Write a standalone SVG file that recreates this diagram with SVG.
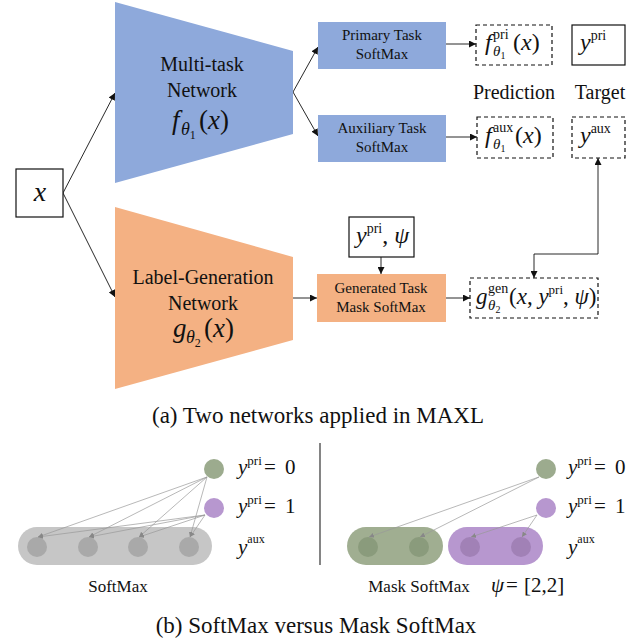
<svg xmlns="http://www.w3.org/2000/svg" width="635" height="643" viewBox="0 0 635 643" font-family="'Liberation Serif', 'Times New Roman', 'DejaVu Serif', serif">
<style>
text{font-family:'Liberation Serif','Times New Roman','DejaVu Serif',serif}
.t{fill:#111}
.i{font-style:italic}
.w{font-size:20px;text-anchor:middle}
.b{font-size:15px;text-anchor:middle}
.cap{font-size:23px;text-anchor:middle}
.ln{stroke:#111;stroke-width:0.9;fill:none}
.dash{fill:#fff;stroke:#111;stroke-width:1.2;stroke-dasharray:4 3}
.solid{fill:#fff;stroke:#111;stroke-width:1.2}
.g{stroke:#9a9a9a;stroke-width:0.7;fill:none}
</style>
<defs>
<marker id="ah" viewBox="0 0 10 10" refX="10" refY="5" markerWidth="7" markerHeight="7" markerUnits="userSpaceOnUse" orient="auto-start-reverse"><path d="M0,0 L10,5 L0,10 z" fill="#111"/></marker>
<marker id="ag" viewBox="0 0 10 10" refX="10" refY="5" markerWidth="5" markerHeight="5" markerUnits="userSpaceOnUse" orient="auto"><path d="M0,0 L10,5 L0,10 z" fill="#888"/></marker>
</defs>
<rect width="635" height="643" fill="#fff"/>

<g id="connectors">
<line class="ln" x1="63" y1="193" x2="115" y2="93" marker-end="url(#ah)"/>
<line class="ln" x1="63" y1="193" x2="115" y2="297" marker-end="url(#ah)"/>
<line class="ln" x1="293" y1="92" x2="318" y2="47" marker-end="url(#ah)"/>
<line class="ln" x1="293" y1="92" x2="318" y2="136" marker-end="url(#ah)"/>
<line class="ln" x1="446" y1="44" x2="476" y2="44" marker-end="url(#ah)"/>
<line class="ln" x1="446" y1="137" x2="477" y2="137" marker-end="url(#ah)"/>
<line class="ln" x1="293" y1="298" x2="317" y2="298" marker-end="url(#ah)"/>
<line class="ln" x1="381" y1="257" x2="381" y2="274" marker-end="url(#ah)"/>
<line class="ln" x1="446" y1="298" x2="470" y2="298" marker-end="url(#ah)"/>
<path class="ln" d="M534,278 L534,254 L598,254 L598,158" marker-start="url(#ah)" marker-end="url(#ah)"/>
</g>

<g id="multitask">
<polygon points="115,2 293,51 293,134 115,183" fill="#8EA9DB"/>
<text class="t w" x="202" y="71">Multi-task</text>
<text class="t w" x="202" y="97">Network</text>
<text class="t" x="172" y="129" font-size="27"><tspan class="i">f</tspan><tspan class="i" font-size="18" dy="6" x="181">θ</tspan><tspan font-size="12" dy="4">1</tspan><tspan dy="-10" x="199">(</tspan><tspan class="i">x</tspan>)</text>
</g>

<g id="input">
<rect class="solid" x="16" y="169" width="47" height="48"/>
<text class="t i" x="40" y="201" font-size="28" text-anchor="middle">x</text>
</g>

<g id="primary">
<rect x="318" y="22" width="128" height="47" fill="#8EA9DB"/>
<text class="t b" x="382" y="40">Primary Task</text>
<text class="t b" x="382" y="59">SoftMax</text>
</g>
<g id="auxiliary">
<rect x="318" y="115" width="128" height="47" fill="#8EA9DB"/>
<text class="t b" x="382" y="133">Auxiliary Task</text>
<text class="t b" x="382" y="152">SoftMax</text>
</g>

<g id="fpri">
<rect class="dash" x="476" y="25" width="76" height="40"/>
<text class="t" x="485" y="50" font-size="24"><tspan class="i">f</tspan><tspan font-size="14" x="493" dy="-11">pri</tspan><tspan class="i" font-size="15" x="493" dy="17">θ</tspan><tspan font-size="10" dy="3">1</tspan><tspan x="513" dy="-9">(</tspan><tspan class="i">x</tspan>)</text>
</g>
<g id="ypri">
<rect class="solid" x="572" y="25" width="53" height="40"/>
<text class="t" x="580" y="50" font-size="24"><tspan class="i">y</tspan><tspan font-size="14" dy="-10">pri</tspan></text>
</g>
<text class="t w" x="514" y="99">Prediction</text>
<text class="t w" x="600" y="99">Target</text>

<g id="faux">
<rect class="dash" x="477" y="117" width="76" height="41"/>
<text class="t" x="485" y="143" font-size="24"><tspan class="i">f</tspan><tspan font-size="14" x="493" dy="-11">aux</tspan><tspan class="i" font-size="15" x="493" dy="17">θ</tspan><tspan font-size="10" dy="3">1</tspan><tspan x="515" dy="-9">(</tspan><tspan class="i">x</tspan>)</text>
</g>
<g id="yaux">
<rect class="dash" x="572" y="117" width="53" height="41"/>
<text class="t" x="580" y="143" font-size="24"><tspan class="i">y</tspan><tspan font-size="14" dy="-10">aux</tspan></text>
</g>

<g id="labelgen">
<polygon points="115,207 293,257 293,340 115,389" fill="#F4B183"/>
<text class="t w" x="203" y="284">Label-Generation</text>
<text class="t w" x="203" y="310">Network</text>
<text class="t" x="173" y="337" font-size="27"><tspan class="i">g</tspan><tspan class="i" font-size="18" dy="6" x="186">θ</tspan><tspan font-size="12" dy="4">2</tspan><tspan dy="-10" x="204">(</tspan><tspan class="i">x</tspan>)</text>
</g>

<g id="ypsi">
<rect class="solid" x="349" y="217" width="65" height="40"/>
<text class="t" x="356" y="243" font-size="24"><tspan class="i">y</tspan><tspan font-size="14" dy="-10">pri</tspan><tspan dy="10">, </tspan><tspan class="i">ψ</tspan></text>
</g>

<g id="gentask">
<rect x="317" y="274" width="129" height="48" fill="#F4B183"/>
<text class="t b" x="381" y="293">Generated Task</text>
<text class="t b" x="381" y="312">Mask SoftMax</text>
</g>

<g id="ggen">
<rect class="dash" x="470" y="278" width="128" height="40"/>
<text class="t" x="476" y="304" font-size="23"><tspan class="i">g</tspan><tspan font-size="14" x="488" dy="-11">gen</tspan><tspan class="i" font-size="15" x="488" dy="17">θ</tspan><tspan font-size="10" dy="3">2</tspan><tspan x="509" dy="-9">(</tspan><tspan class="i">x</tspan>, <tspan class="i">y</tspan><tspan font-size="13" dy="-10">pri</tspan><tspan dy="10">, </tspan><tspan class="i">ψ</tspan>)</text>
</g>

<text class="t cap" x="318" y="423">(a) Two networks applied in MAXL</text>

<line x1="320" y1="443" x2="320" y2="565" stroke="#333" stroke-width="1.2"/>

<g id="softmax">
<rect x="18" y="527" width="194" height="38" rx="19" fill="#C6C6C6"/>
<circle cx="37" cy="547" r="10" fill="#A9A9A9"/>
<circle cx="88" cy="547" r="10" fill="#A9A9A9"/>
<circle cx="138" cy="547" r="10" fill="#A9A9A9"/>
<circle cx="189" cy="547" r="10" fill="#A9A9A9"/>
<circle cx="214" cy="469" r="10" fill="#9CAB8E"/>
<circle cx="214" cy="508" r="10" fill="#B797CF"/>
<g class="g">
<line x1="207" y1="477" x2="38" y2="537" marker-end="url(#ag)"/>
<line x1="207" y1="477" x2="89" y2="537" marker-end="url(#ag)"/>
<line x1="207" y1="477" x2="139" y2="537" marker-end="url(#ag)"/>
<line x1="207" y1="477" x2="190" y2="537" marker-end="url(#ag)"/>
<line x1="205" y1="515" x2="38" y2="537" marker-end="url(#ag)"/>
<line x1="205" y1="515" x2="89" y2="537" marker-end="url(#ag)"/>
<line x1="205" y1="515" x2="139" y2="537" marker-end="url(#ag)"/>
<line x1="205" y1="515" x2="190" y2="537" marker-end="url(#ag)"/>
</g>
<text class="t" x="238" y="474" font-size="21"><tspan class="i">y</tspan><tspan font-size="13" dy="-9">pri</tspan><tspan x="264" dy="9">=</tspan><tspan x="285">0</tspan></text>
<text class="t" x="238" y="513" font-size="21"><tspan class="i">y</tspan><tspan font-size="13" dy="-9">pri</tspan><tspan x="264" dy="9">=</tspan><tspan x="285">1</tspan></text>
<text class="t" x="238" y="554" font-size="21"><tspan class="i">y</tspan><tspan font-size="12" dy="-11">aux</tspan></text>
<text class="t" x="118" y="592" font-size="17" text-anchor="middle">SoftMax</text>
</g>

<g id="masksoftmax">
<rect x="347" y="527" width="96" height="38" rx="19" fill="#A0AE91"/>
<rect x="448" y="527" width="95" height="38" rx="19" fill="#B797CF"/>
<circle cx="368" cy="547" r="10" fill="#8A9B7C"/>
<circle cx="419" cy="547" r="10" fill="#8A9B7C"/>
<circle cx="470" cy="547" r="10" fill="#A181B6"/>
<circle cx="521" cy="547" r="10" fill="#A181B6"/>
<circle cx="546" cy="469" r="10" fill="#9CAB8E"/>
<circle cx="546" cy="508" r="10" fill="#B797CF"/>
<g class="g">
<line x1="539" y1="477" x2="369" y2="537" marker-end="url(#ag)"/>
<line x1="539" y1="477" x2="420" y2="537" marker-end="url(#ag)"/>
<line x1="537" y1="515" x2="471" y2="537" marker-end="url(#ag)"/>
<line x1="537" y1="515" x2="522" y2="537" marker-end="url(#ag)"/>
</g>
<text class="t" x="568" y="474" font-size="21"><tspan class="i">y</tspan><tspan font-size="13" dy="-9">pri</tspan><tspan x="594" dy="9">=</tspan><tspan x="615">0</tspan></text>
<text class="t" x="568" y="513" font-size="21"><tspan class="i">y</tspan><tspan font-size="13" dy="-9">pri</tspan><tspan x="594" dy="9">=</tspan><tspan x="615">1</tspan></text>
<text class="t" x="568" y="554" font-size="21"><tspan class="i">y</tspan><tspan font-size="12" dy="-11">aux</tspan></text>
<text class="t" x="419" y="592" font-size="17" text-anchor="middle">Mask SoftMax</text>
<text class="t" x="491" y="592" font-size="21"><tspan class="i">ψ</tspan><tspan x="506">=</tspan><tspan x="524">[2,2]</tspan></text>
</g>

<text class="t cap" x="316" y="633">(b) SoftMax versus Mask SoftMax</text>
</svg>
